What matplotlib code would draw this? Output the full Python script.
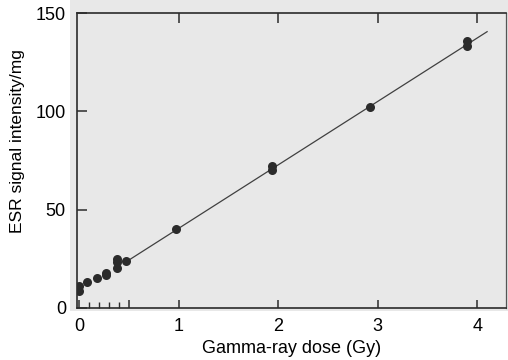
import matplotlib.pyplot as plt
from matplotlib.patches import Rectangle

plt.rcParams['font.family'] = ['Liberation Sans', 'DejaVu Sans']

dose = [0, 0, 0.08, 0.18, 0.27, 0.27, 0.38, 0.38, 0.38, 0.47,
        0.97, 1.94, 1.94, 2.92, 3.9, 3.9]
intensity = [11, 8.5, 13, 15.5, 17, 18, 25, 23.5, 20.5, 24,
             40, 72, 70, 102, 136, 133]

# Fitted straight line
fit_dose = [0.47, 4.1]
fit_intensity = [23.5, 140.5]

x_ticks = [0, 0.5, 1, 2, 3, 4]
x_labels = ['0', '', '1', '2', '3', '4']
x_minor = [0.1, 0.2, 0.3, 0.4]
y_ticks = [0, 50, 100, 150]

ink = '#2b2b2b'

fig = plt.figure(figsize=(5.08, 3.6), dpi=100)

# grey scanned-paper patch behind the plot
fig.patches.append(Rectangle((70 / 508, 49 / 360), 1, 1, transform=fig.transFigure,
                             facecolor='#e8e8e8', edgecolor='none', zorder=-5))

ax = fig.add_axes([77 / 508, 52 / 360, 429 / 508, 295 / 360])
ax.set_facecolor('none')

ax.plot(fit_dose, fit_intensity, color='#404040', lw=0.9, zorder=2)
ax.plot(dose, intensity, 'o', color=ink, ms=6.5, mec='none', zorder=3)

ax.set_xlim(-0.025, 4.29)
ax.set_ylim(0, 150)

ax.set_xticks(x_ticks)
ax.set_xticklabels(x_labels)
ax.set_xticks(x_minor, minor=True)
ax.set_yticks(y_ticks)

ax.tick_params(axis='x', which='major', direction='in', length=6, width=1.1,
               color=ink, labelsize=13, pad=7)
ax.tick_params(axis='x', which='minor', direction='in', length=4, width=1.0,
               color=ink)
ax.tick_params(axis='y', direction='in', length=7, width=1.1, color=ink,
               labelsize=13, pad=8)

for s in ax.spines.values():
    s.set_color(ink)
    s.set_linewidth(1.2)
ax.spines['right'].set_linewidth(0.9)
ax.spines['right'].set_color('#555555')

# ticks hanging down from the top frame at whole Gy
top = ax.twiny()
top.set_xlim(ax.get_xlim())
top.set_xticks([1, 2, 3, 4])
top.set_xticklabels([])
top.tick_params(direction='in', length=7, width=1.1, color=ink)
for s in top.spines.values():
    s.set_visible(False)

ax.set_xlabel('Gamma-ray dose (Gy)', fontsize=13, labelpad=4)
fig.text(18 / 508, 1 - 141 / 360, 'ESR signal intensity/mg', rotation=90,
         ha='center', va='center', fontsize=12.5)

fig.savefig('out.png', dpi=100)
